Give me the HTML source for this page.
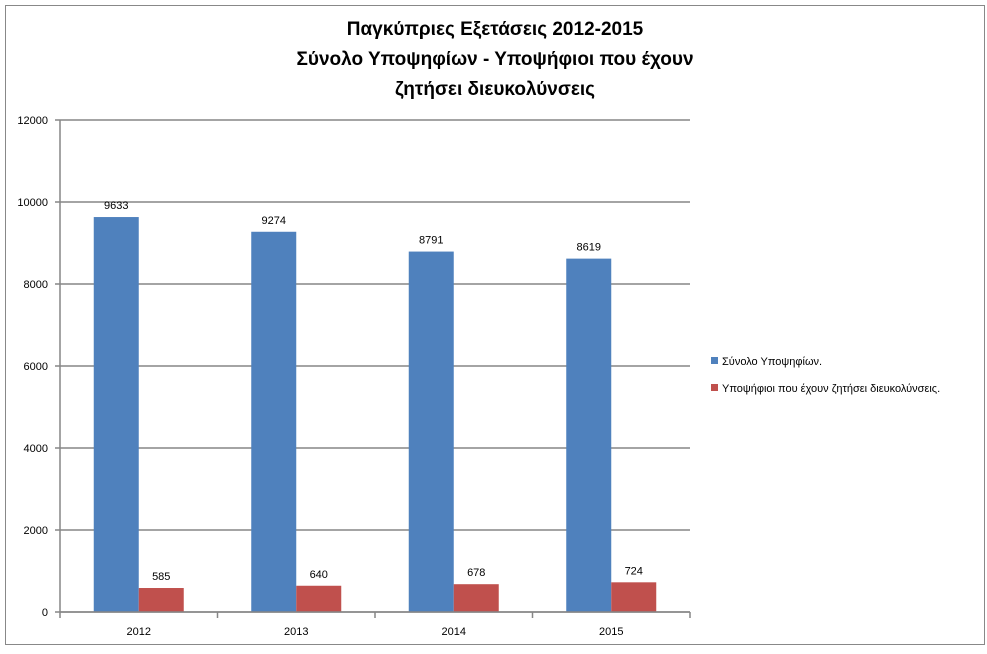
<!DOCTYPE html>
<html><head><meta charset="utf-8"><style>
body{margin:0;background:#fff;font-family:"Liberation Sans","DejaVu Sans",sans-serif}
svg text{font-family:"Liberation Sans","DejaVu Sans",sans-serif}
</style></head><body>
<svg id="c" width="987" height="649" xmlns="http://www.w3.org/2000/svg">
<rect x="5.5" y="5.5" width="979" height="639" fill="#fff" stroke="#888"/>
<g font-size="19" font-weight="bold" text-anchor="middle" fill="#000">
<text x="495" y="35">Παγκύπριες Εξετάσεις 2012-2015</text>
<text x="495" y="65">Σύνολο Υποψηφίων - Υποψήφιοι που έχουν</text>
<text x="495" y="95">ζητήσει διευκολύνσεις</text>
</g>
<g id="grid"></g><g id="bars"></g><g id="axes"></g>
<g font-size="11">
<rect x="711" y="357" width="7" height="7" fill="#4f81bd"/>
<text x="722" y="365">Σύνολο Υποψηφίων.</text>
<rect x="711" y="384" width="7" height="7" fill="#c0504d"/>
<text x="722" y="392">Υποψήφιοι που έχουν ζητήσει διευκολύνσεις.</text>
</g>
</svg>
<script>
const categories=["2012","2013","2014","2015"];
const totalValues=[9633,9274,8791,8619];
const accomValues=[585,640,678,724];
const yTicks=[0,2000,4000,6000,8000,10000,12000];
const NS="http://www.w3.org/2000/svg";
const x0=60,x1=690,yb=612,yt=120,ymax=12000;
const y=v=>yb-(v/ymax)*(yb-yt);
const bw=(x1-x0)/categories.length;
const grid=document.getElementById('grid'),bars=document.getElementById('bars'),axes=document.getElementById('axes');
function mk(tag,attrs,parent,txt){const e=document.createElementNS(NS,tag);for(const k in attrs)e.setAttribute(k,attrs[k]);if(txt!==undefined)e.textContent=txt;parent.appendChild(e);return e;}
yTicks.forEach(t=>{
 const g=mk('line',{x1:x0,x2:x1,y1:y(t),y2:y(t),stroke:'#868686','stroke-width':1.5},grid);
 
 
 const tk=mk('line',{x1:x0-5,x2:x0,y1:y(t),y2:y(t),stroke:'#868686','stroke-width':1.5},axes);
 
 
 const l=mk('text',{x:x0-12,y:y(t)+4,'font-size':11,'text-anchor':'end'},axes,String(t));
 
 
});
categories.forEach((c,i)=>{
 const cx=x0+bw*(i+0.5);
 const b1=mk('rect',{x:cx-45,y:y(totalValues[i]),width:45,height:yb-y(totalValues[i]),fill:'#4f81bd'},bars);
 
 
 const b2=mk('rect',{x:cx,y:y(accomValues[i]),width:45,height:yb-y(accomValues[i]),fill:'#c0504d'},bars);
 
 
 const v1=mk('text',{x:cx-22.5,y:y(totalValues[i])-8,'font-size':11,'text-anchor':'middle'},bars,String(totalValues[i]));
 
 
 const v2=mk('text',{x:cx+22.5,y:y(accomValues[i])-8,'font-size':11,'text-anchor':'middle'},bars,String(accomValues[i]));
 
 
 const xl=mk('text',{x:cx,y:yb+23,'font-size':11,'text-anchor':'middle'},axes,c);
 
 
});
for(let i=0;i<=categories.length;i++){
 const xx=x0+bw*i;
 const t=mk('line',{x1:xx,x2:xx,y1:yb,y2:yb+6,stroke:'#868686','stroke-width':1.5},axes);
 
 
}
const ya=mk('line',{x1:x0,x2:x0,y1:yt,y2:yb,stroke:'#868686','stroke-width':1.5},axes);


const xa=mk('line',{x1:x0,x2:x1,y1:yb,y2:yb,stroke:'#868686','stroke-width':1.5},axes);


</script>
</body></html>
